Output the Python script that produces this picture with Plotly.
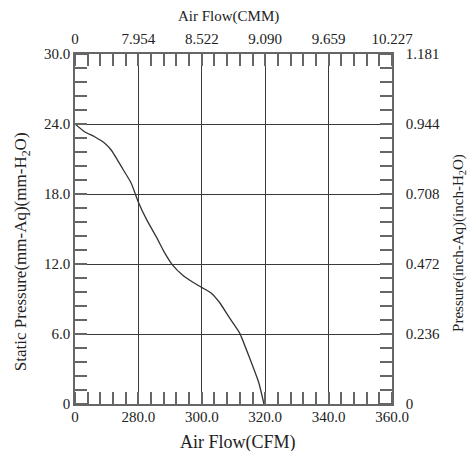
import plotly.graph_objects as go

# curve (x in plotted CFM units, broken axis starting at 260 = "0")
cfm = [260.0, 263.0, 266.2, 269.3, 271.4, 273.4, 275.6, 277.7, 280.0, 282.6,
       285.7, 288.2, 290.8, 293.9, 297.1, 299.9, 303.0, 305.6, 308.7, 311.9,
       315.0, 318.0, 319.6]
pressure = [24.0, 23.34, 22.91, 22.37, 21.77, 20.91, 19.91, 18.94, 17.3, 15.8,
            14.3, 13.0, 11.9, 11.06, 10.46, 10.0, 9.5, 8.7, 7.4, 6.1,
            4.0, 1.8, 0.0]

cfm_ticks = [260, 280, 300, 320, 340, 360]
cfm_labels = ["0", "280.0", "300.0", "320.0", "340.0", "360.0"]
cmm_labels = ["0", "7.954", "8.522", "9.090", "9.659", "10.227"]
mm_ticks = [0, 6, 12, 18, 24, 30]
mm_labels = ["0", "6.0", "12.0", "18.0", "24.0", "30.0"]
inch_labels = ["0", "0.236", "0.472", "0.708", "0.944", "1.181"]

font = "Liberation Serif, Times New Roman, serif"
axcol = "#666666"
gridcol = "#3a3a3a"

fig = go.Figure()
fig.add_trace(go.Scatter(x=cfm, y=pressure, mode="lines",
                         line=dict(color="#333333", width=1.3, shape="spline", smoothing=0.6),
                         showlegend=False))
# invisible copy so the secondary axes get drawn
fig.add_trace(go.Scatter(x=cfm, y=pressure, mode="lines", xaxis="x2", yaxis="y2",
                         line=dict(width=0), opacity=0, showlegend=False, hoverinfo="skip"))

common = dict(showline=True, linecolor=axcol, linewidth=1.5, zeroline=False,
              gridcolor=gridcol, gridwidth=1, ticks="", tickmode="array",
              tickfont=dict(family=font, size=15, color="#222"))

def minor(t0, dt):
    return dict(ticks="inside", ticklen=12, tickcolor=axcol, tickwidth=1.5,
                tickmode="linear", tick0=t0, dtick=dt, showgrid=False)

fig.update_layout(
    width=469, height=451,
    margin=dict(l=75, r=77, t=54, b=47),
    plot_bgcolor="white", paper_bgcolor="white",
    font=dict(family=font, color="#222"),
    xaxis=dict(range=[260, 360], tickvals=cfm_ticks, ticktext=cfm_labels,
               showgrid=True, ticklabelstandoff=-2, minor=minor(260, 4), **common),
    xaxis2=dict(range=[260, 360], tickvals=cfm_ticks, ticktext=cmm_labels,
                overlaying="x", side="top", showgrid=False, ticklabelstandoff=2,
                minor=minor(260, 4), **common),
    yaxis=dict(range=[0, 30], tickvals=mm_ticks, ticktext=mm_labels,
               showgrid=True, ticklabelstandoff=0, minor=minor(0, 1.2), **common),
    yaxis2=dict(range=[0, 30], tickvals=mm_ticks, ticktext=inch_labels,
                overlaying="y", side="right", showgrid=False, ticklabelstandoff=9,
                minor=minor(0, 1.2), **common),
)

titles = [
    ("Air Flow(CFM)", 0.514, -0.109, 0, 18),
    ("Air Flow(CMM)", 0.483, 1.106, 0, 15),
    ("Static Pressure(mm-Aq)(mm-H<sub>2</sub>O)", -0.167, 0.434, -90, 17),
    ("Pressure(inch-Aq)(inch-H<sub>2</sub>O)", 1.211, 0.46, -90, 15),
]
for text, x, y, ang, size in titles:
    fig.add_annotation(text=text, x=x, y=y, xref="paper", yref="paper",
                       xanchor="center", yanchor="middle", textangle=ang,
                       showarrow=False, font=dict(family=font, size=size, color="#222"))

fig.write_html("out.html", config={"displayModeBar": False},
               post_script="document.body.style.margin='0px';")
